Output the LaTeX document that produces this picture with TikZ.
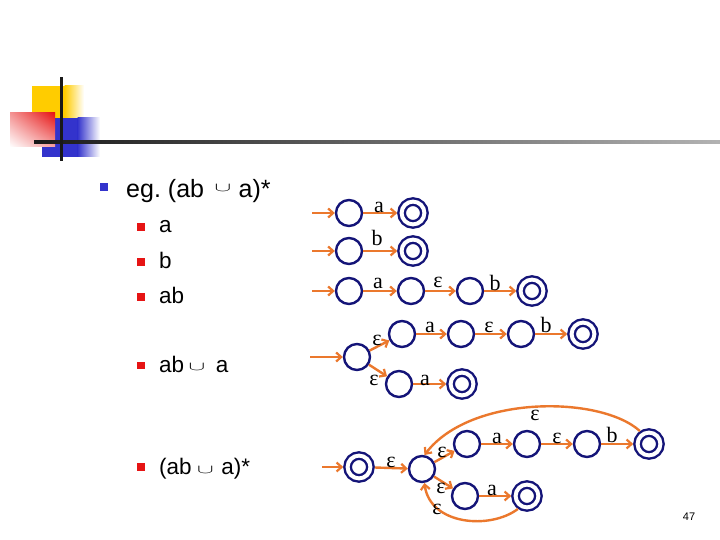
\documentclass[tikz,border=0pt]{standalone}
\usepackage{fontspec}
\usepackage{graphicx}
\setmainfont{Liberation Sans}
\newfontfamily\serifl{Liberation Serif}
\usetikzlibrary{arrows.meta,shadings}
\definecolor{orng}{RGB}{235,120,45}
\definecolor{nvy}{RGB}{20,20,120}
\definecolor{bbl}{RGB}{51,51,204}
\definecolor{rbl}{RGB}{230,20,20}
\definecolor{ylw}{RGB}{255,204,0}
\newcommand{\cupx}[2]{\raisebox{#2}{\scalebox{1}[0.5]{\fontsize{#1}{#1}\selectfont$\cup$}}}
\begin{document}
\begin{tikzpicture}[x=1pt,y=-1pt,
 st/.style={circle,draw=nvy,line width=2.4pt,minimum size=26pt,inner sep=0pt,fill=white},
 acc/.style={circle,draw=nvy,line width=2.4pt,double=white,double distance=4pt,minimum size=22.8pt,inner sep=0pt,outer sep=4.4pt},
 tr/.style={draw=orng,line width=2.4pt,-{Straight Barb[length=5pt,width=9pt,line width=2.2pt]}},
 lab/.style={font=\serifl\fontsize{22}{22}\selectfont,inner sep=0pt,anchor=base},
 itm/.style={font=\fontsize{22.5}{26}\selectfont,inner sep=0pt,anchor=base west},
 rsq/.style={fill=rbl,minimum size=7.5pt,inner sep=0pt}]
\useasboundingbox (0,0) rectangle (720,540);
\fill[white] (0,0) rectangle (720,540);
% decoration
\fill[ylw] (32,86) rectangle (65,119);
\shade[left color=ylw,right color=white] (64.5,86) rectangle (84,119);
\fill[bbl] (42,118) rectangle (78,157);
\shade[left color=bbl,right color=white] (77.5,118) rectangle (100,157);
\shade[upper right=rbl,upper left=rbl!45,lower right=rbl!40,lower left=white] (10,113) rectangle (55,147);
\shade[left color=black!90,right color=black!30] (34,140.5) rectangle (720,143.5);
\fill[black!90] (59.5,77) rectangle (62.5,161);
% bullets and text
\node[fill=bbl,minimum size=8pt,inner sep=0pt] (b0) at (104,187.5) {};
\node[font=\fontsize{25}{30}\selectfont,inner sep=0pt,anchor=base west] (x0) at (126,198) {eg.\hspace{7pt}(ab\hspace{10.5pt}\cupx{27}{6pt}\hspace{7.5pt}a)*};
\node[rsq] (b1) at (141,227) {};
\node[itm] (x1) at (159,233) {a};
\node[rsq] (b2) at (141,262) {};
\node[itm] (x2) at (159,268) {b};
\node[rsq] (b3) at (141,297) {};
\node[itm] (x3) at (159,303) {ab};
\node[rsq] (b4) at (141,365.5) {};
\node[itm] (x4) at (159,372) {ab\hspace{4.5pt}\cupx{23.5}{2pt}\hspace{10.5pt}a};
\node[rsq] (b5) at (141,467) {};
\node[itm] (x5) at (159,474) {(ab\hspace{5.5pt}\cupx{23.5}{1pt}\hspace{7.5pt}a)*};
\node[font=\fontsize{11}{13}\selectfont,inner sep=0pt,anchor=base] (pg) at (689,520) {47};
% row 1
\node[st] (p1) at (349,213) {};
\node[acc] (q1) at (413,213) {};
\coordinate (i1) at (312,213);
\draw[tr] (i1) -- (p1);
\draw[tr] (p1) -- (q1);
\node[lab] (l1) at (379,212) {a};
% row 2
\node[st] (p2) at (349,251) {};
\node[acc] (q2) at (413,251) {};
\coordinate (i2) at (312,251);
\draw[tr] (i2) -- (p2);
\draw[tr] (p2) -- (q2);
\node[lab] (l2) at (377,245) {b};
% row 3
\node[st] (r1) at (349,291) {};
\node[st] (r2) at (411,291) {};
\node[st] (r3) at (470,291) {};
\node[acc] (r4) at (532,291) {};
\coordinate (i3) at (312,291);
\draw[tr] (i3) -- (r1);
\draw[tr] (r1) -- (r2);
\draw[tr] (r2) -- (r3);
\draw[tr] (r3) -- (r4);
\node[lab] (l3a) at (378,288) {a};
\node[lab] (l3b) at (438,287) {ε};
\node[lab] (l3c) at (495,290) {b};
% row 4
\node[st] (s0) at (357,357) {};
\node[st] (s1) at (402,334) {};
\node[st] (s2) at (461,334) {};
\node[st] (s3) at (521,334) {};
\node[acc] (s4) at (583,334) {};
\node[st] (t1) at (399,384) {};
\node[acc] (t2) at (462,384) {};
\coordinate (i4) at (310,357);
\draw[tr] (i4) -- (s0);
\draw[tr] (s0) -- (s1);
\draw[tr] (s1) -- (s2);
\draw[tr] (s2) -- (s3);
\draw[tr] (s3) -- (s4);
\draw[tr] (s0) -- (t1);
\draw[tr] (t1) -- (t2);
\node[lab] (l4a) at (377,345) {ε};
\node[lab] (l4b) at (430,332) {a};
\node[lab] (l4c) at (489,332) {ε};
\node[lab] (l4d) at (546,332) {b};
\node[lab] (l4e) at (374,385) {ε};
\node[lab] (l4f) at (425,385) {a};
% row 6
\node[acc] (u0) at (359,467) {};
\node[st] (h) at (422,469) {};
\node[st] (v1) at (467,444) {};
\node[st] (v2) at (527,444) {};
\node[st] (v3) at (587,444) {};
\node[acc] (v4) at (649,444) {};
\node[st] (w1) at (465,496) {};
\node[acc] (w2) at (527,496) {};
\coordinate (i6) at (322,467);
\draw[tr] (i6) -- (u0);
\draw[tr] (u0) -- (h);
\draw[tr] (h) -- (v1);
\draw[tr] (v1) -- (v2);
\draw[tr] (v2) -- (v3);
\draw[tr] (v3) -- (v4);
\draw[tr] (h) -- (w1);
\draw[tr] (w1) -- (w2);
\draw[tr] (v4.125) .. controls (600,395) and (470,395) .. (h.80);
\draw[tr] (w2.235) .. controls (490,530) and (430,525) .. (h.280);
\node[lab] (l6a) at (391,467) {ε};
\node[lab] (l6b) at (442,457) {ε};
\node[lab] (l6c) at (497,443) {a};
\node[lab] (l6d) at (557,443) {ε};
\node[lab] (l6e) at (612,442) {b};
\node[lab] (l6f) at (535,420) {ε};
\node[lab] (l6g) at (441,493) {ε};
\node[lab] (l6h) at (492,495) {a};
\node[lab] (l6i) at (437,514) {ε};
\end{tikzpicture}
\end{document}
